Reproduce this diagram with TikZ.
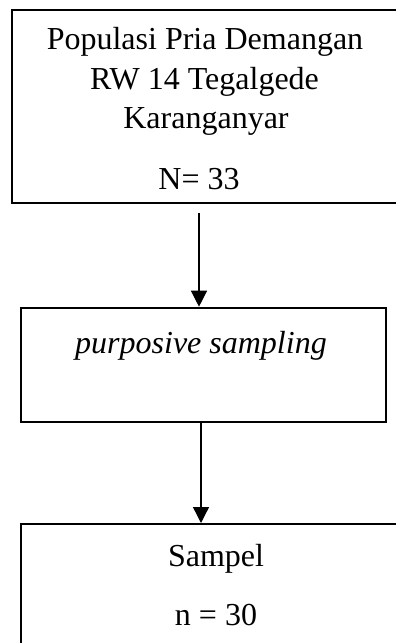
\documentclass[tikz,border=0pt]{standalone}
\usepackage{fontspec}
\setmainfont{Liberation Serif}
\usetikzlibrary{arrows.meta}
\tikzset{
  box/.style={draw, line width=1pt, rectangle, inner sep=0pt},
  txt/.style={anchor=base, inner sep=0pt, font=\fontsize{16}{19.5}\selectfont},
  conn/.style={line width=0.65pt, -{Triangle[width=8pt,length=8pt]}}
}
\begin{document}
\begin{tikzpicture}[x=0.5pt,y=-0.5pt]
\useasboundingbox (0,0) rectangle (396,643);
% boxes
\node[box, minimum width=193pt, minimum height=96.5pt] (b1) at (205,106.5) {};
\node[box, minimum width=182.5pt, minimum height=57.3pt] (b2) at (203.2,365) {};
\node[box, minimum width=195pt, minimum height=90pt] (b3) at (216,614) {};
% texts
\node[txt] (t1) at (205,49.5) {Populasi Pria Demangan};
\node[txt] (t2) at (204.5,89) {RW 14 Tegalgede};
\node[txt] (t3) at (206,128.5) {Karanganyar};
\node[txt] (t4) at (199,189) {N= 33};
\node[txt] (t5) at (201,353) {\itshape purposive sampling};
\node[txt] (t6) at (216,566) {Sampel};
\node[txt] (t7) at (216,625.5) {n = 30};
% connectors
\coordinate (a1) at (199,213);
\draw[conn] (a1) -- (a1 |- b2.north);
\draw[conn] (201,0 |- b2.south) -- (201,0 |- b3.north);
\end{tikzpicture}
\end{document}
